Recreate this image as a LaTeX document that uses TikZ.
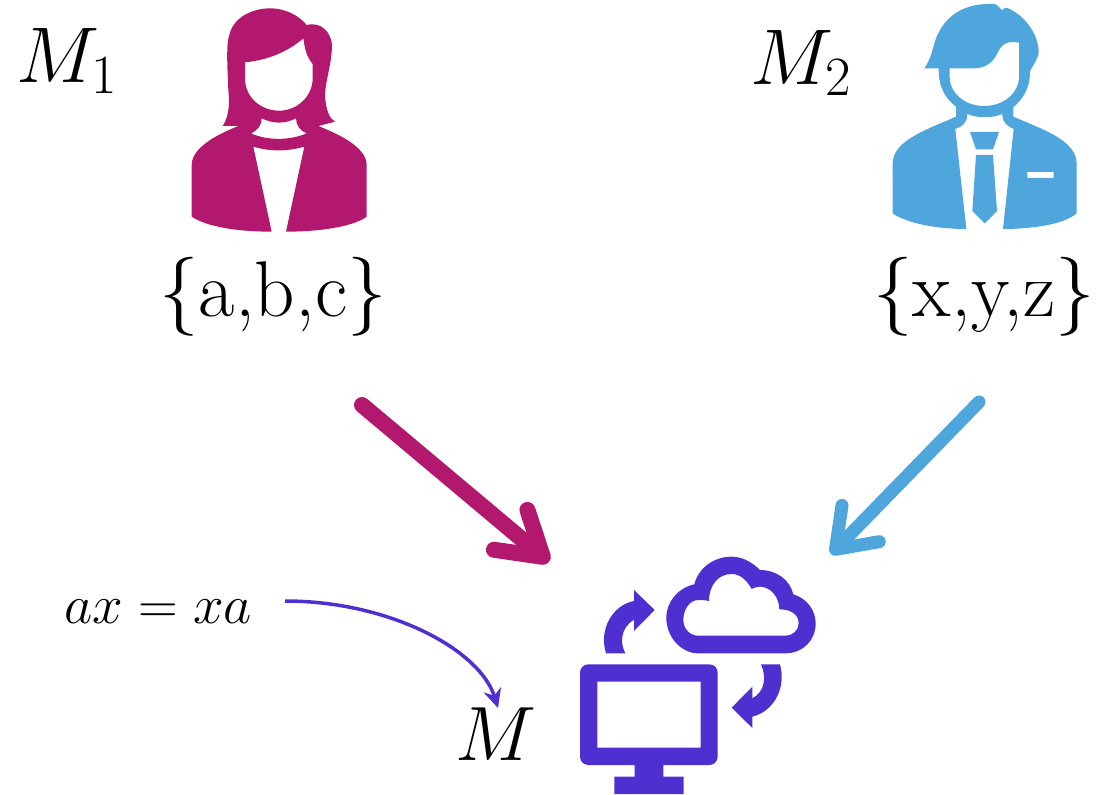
\documentclass[tikz,border=0pt]{standalone}
\usepackage{fix-cm}
\usepackage{amsmath}
\usetikzlibrary{arrows.meta,positioning,calc}
\definecolor{womanpink}{HTML}{B2186E}
\definecolor{manblue}{HTML}{4FA6DD}
\definecolor{machinepurple}{HTML}{4F2FD0}

\begin{document}
\begin{tikzpicture}[
  x=1pt,y=-1pt,
  biglabel/.style={font=\fontsize{79}{90}\selectfont,inner sep=0pt},
  reslabel/.style={font=\fontsize{77}{90}\selectfont,inner sep=0pt},
  eqlabel/.style={font=\fontsize{55}{65}\selectfont,inner sep=0pt},
  womanarr/.style={-{Straight Barb[length=42pt,width=52pt,line cap=round,round]},line width=16pt,line cap=round,color=womanpink},
  manarr/.style={-{Straight Barb[length=36pt,width=52pt,line cap=round,round]},line width=13pt,line cap=round,color=manblue},
  eqarr/.style={-{Stealth[length=19pt,width=18pt]},line width=3.5pt,color=machinepurple},
]
  \useasboundingbox (0,0) rectangle (1096,795);

  % woman
  \begin{scope}[shift={(170,0)},scale=1/3]
    \fill[womanpink,even odd rule] (158,378) .. controls (180,345) and (178,300) .. (175,270)
      .. controls (172,200) and (168,130) .. (178,105) .. controls (190,50) and (250,25) .. (300,25)
      .. controls (350,25) and (390,50) .. (410,75) .. controls (430,70) and (470,70) .. (485,125)
      .. controls (490,180) and (465,240) .. (465,290) .. controls (470,340) and (480,355) .. (495,365)
      -- (445,378) .. controls (500,400) and (590,440) .. (590,495) -- (590,650)
      .. controls (550,680) and (450,695) .. (348,695) -- (403,440)
      .. controls (350,455) and (300,455) .. (250,440) -- (305,695)
      .. controls (200,695) and (110,680) .. (65,650) -- (65,495)
      .. controls (65,440) and (150,400) .. (205,378) -- cycle
      (225,187) .. controls (300,180) and (360,150) .. (400,115)
      .. controls (405,150) and (410,170) .. (428,192) -- (428,235)
      .. controls (428,290) and (380,332) .. (328,332)
      .. controls (270,332) and (225,290) .. (225,235) -- cycle
      (243,400) .. controls (265,390) and (275,375) .. (275,355)
      .. controls (310,372) and (345,372) .. (378,355)
      .. controls (378,375) and (390,392) .. (410,400)
      .. controls (360,422) and (290,422) .. (243,400) -- cycle;
  \end{scope}

  % man
  \begin{scope}[shift={(880,0)},scale=1/3]
    \fill[manblue,even odd rule] (133,205) .. controls (155,175) and (158,140) .. (170,110)
      .. controls (200,40) and (260,8) .. (345,12) .. controls (355,15) and (362,30) .. (367,30)
      .. controls (375,22) and (380,22) .. (385,25) .. controls (440,50) and (478,110) .. (476,160)
      .. controls (470,185) and (455,200) .. (450,215) .. controls (450,265) and (430,295) .. (400,322)
      -- (400,350) .. controls (480,385) and (590,420) .. (590,490) -- (590,640)
      .. controls (550,675) and (450,687) .. (369,687) -- (401,387)
      .. controls (385,380) and (367,370) .. (367,342) .. controls (335,355) and (295,355) .. (262,342)
      .. controls (262,370) and (245,380) .. (226,387) -- (259,687)
      .. controls (170,687) and (80,670) .. (38,640) -- (38,490)
      .. controls (38,420) and (150,385) .. (228,350) -- (228,320)
      .. controls (195,295) and (175,260) .. (176,205) -- cycle
      (209,205) -- (280,205) .. controls (320,205) and (340,185) .. (352,160)
      .. controls (365,130) and (385,122) .. (417,128) -- (417,230)
      .. controls (417,280) and (370,318) .. (313,318)
      .. controls (255,318) and (209,280) .. (209,230) -- cycle
      (442,516) rectangle (521,534);
    \fill[manblue] (270,396) -- (357,396) -- (339,448) -- (288,448) -- cycle;
    \fill[manblue] (288,465) -- (339,465) -- (351,633) -- (314,670) -- (277,633) -- cycle;
  \end{scope}

  % machine
  \begin{scope}[shift={(570,545)},scale=1/3]
    \fill[machinepurple,even odd rule] (55,358) -- (418,358) .. controls (432,358) and (443,369) .. (443,383)
      -- (443,635) .. controls (443,649) and (432,660) .. (418,660)
      -- (280,660) -- (280,695) -- (341,695) -- (341,747) -- (133,747) -- (133,695) -- (194,695) -- (194,660)
      -- (55,660) .. controls (41,660) and (30,649) .. (30,635)
      -- (30,383) .. controls (30,369) and (41,358) .. (55,358) -- cycle
      (82,410) rectangle (392,608);
    \fill[machinepurple,even odd rule] (385,325) -- (645,325) .. controls (700,325) and (737,285) .. (737,235)
      .. controls (737,195) and (710,160) .. (670,148) .. controls (660,105) and (620,75) .. (570,75)
      .. controls (545,50) and (515,35) .. (485,35) .. controls (430,35) and (385,70) .. (373,118)
      .. controls (325,128) and (289,170) .. (289,218) .. controls (289,278) and (335,325) .. (385,325) -- cycle
      (385,272) -- (645,272) .. controls (670,272) and (686,255) .. (686,235)
      .. controls (686,210) and (665,193) .. (628,193) .. controls (628,155) and (600,125) .. (570,125)
      .. controls (560,125) and (552,128) .. (545,132) .. controls (530,105) and (510,87) .. (485,87)
      .. controls (445,87) and (417,120) .. (417,168) .. controls (405,165) and (395,165) .. (385,165)
      .. controls (358,165) and (340,195) .. (340,225) .. controls (340,252) and (360,272) .. (385,272) -- cycle;
    \fill[machinepurple] (108,325) -- (166,325) .. controls (150,295) and (150,250) .. (192,224)
      -- (192,258) -- (254,195) -- (192,135) -- (192,168) .. controls (130,180) and (85,250) .. (108,325) -- cycle;
    \fill[machinepurple] (573,358) -- (630,358) .. controls (650,430) and (610,500) .. (547,515)
      -- (547,549) -- (485,488) -- (547,425) -- (547,460) .. controls (585,440) and (590,395) .. (573,358) -- cycle;
  \end{scope}

  \node[biglabel] (mone) at (67,61) {$M_1$};
  \node[biglabel] (mtwo) at (801,63) {$M_2$};
  \node[biglabel] (abc) at (273,297) {\{a,b,c\}};
  \node[biglabel] (xyz) at (984,297) {\{x,y,z\}};
  \node[reslabel] (mres) at (496,734) {$M$};
  \node[eqlabel] (eq) at (158,612) {$ax=xa$};

  \coordinate (womanstart) at (362,405);
  \coordinate (womanend) at (549,562);
  \coordinate (manstart) at (979,402);
  \coordinate (manend) at (831,554);
  \coordinate (eqstart) at (285,601);
  \coordinate (eqend) at (498,708);

  \draw[womanarr] (womanstart) -- (womanend);
  \draw[manarr] (manstart) -- (manend);
  \draw[eqarr] (eqstart) .. controls (390,601) and (480,650) .. (eqend);
\end{tikzpicture}
\end{document}
